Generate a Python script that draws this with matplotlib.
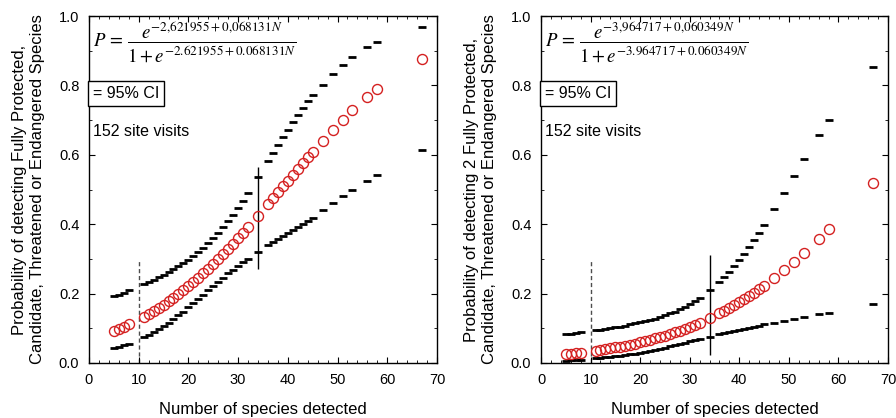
#!/usr/bin/env python3
"""
Logistic detection curves for protected species vs. number of species
detected per site visit (two panels: >=1 and >=2 protected species).
"""

import numpy as np
import matplotlib

matplotlib.use("Agg")
import matplotlib.pyplot as plt
from matplotlib.ticker import MultipleLocator

plt.rcParams["font.family"] = ["Liberation Sans", "DejaVu Sans"]
plt.rcParams["mathtext.fontset"] = "stix"

# species counts observed at the site visits
N_SPECIES = [5, 6, 7, 8, 11, 12, 13, 14, 15, 16, 17, 18, 19, 20, 21, 22, 23,
             24, 25, 26, 27, 28, 29, 30, 31, 32, 34, 36, 37, 38, 39, 40, 41,
             42, 43, 44, 45, 47, 49, 51, 53, 56, 58, 67]

# panel 1: P(detect >=1 protected species)
P1_FIT = [0.093, 0.099, 0.105, 0.111, 0.133, 0.141, 0.150, 0.159, 0.168,
          0.178, 0.188, 0.199, 0.210, 0.221, 0.233, 0.245, 0.258, 0.272,
          0.285, 0.299, 0.314, 0.329, 0.344, 0.359, 0.375, 0.391, 0.424,
          0.458, 0.475, 0.492, 0.509, 0.526, 0.543, 0.560, 0.576, 0.593,
          0.609, 0.641, 0.672, 0.701, 0.729, 0.767, 0.791, 0.875]
P1_UPPER = [0.192, 0.197, 0.203, 0.209, 0.227, 0.234, 0.240, 0.247, 0.255,
            0.263, 0.271, 0.279, 0.288, 0.298, 0.308, 0.319, 0.331, 0.345,
            0.359, 0.374, 0.391, 0.408, 0.427, 0.447, 0.468, 0.490, 0.535,
            0.582, 0.605, 0.628, 0.650, 0.673, 0.694, 0.715, 0.735, 0.754,
            0.772, 0.801, 0.832, 0.858, 0.881, 0.910, 0.925, 0.969]
P1_LOWER = [0.042, 0.046, 0.051, 0.056, 0.075, 0.082, 0.089, 0.098, 0.107,
            0.116, 0.126, 0.137, 0.148, 0.160, 0.172, 0.184, 0.197, 0.209,
            0.222, 0.234, 0.246, 0.258, 0.269, 0.280, 0.291, 0.301, 0.320,
            0.339, 0.348, 0.357, 0.366, 0.375, 0.383, 0.392, 0.401, 0.409,
            0.418, 0.440, 0.460, 0.480, 0.498, 0.526, 0.543, 0.615]

# panel 2: P(detect >=2 protected species)
P2_FIT = [0.025, 0.027, 0.028, 0.030, 0.036, 0.038, 0.040, 0.042, 0.045,
          0.047, 0.050, 0.053, 0.056, 0.060, 0.063, 0.067, 0.071, 0.075,
          0.079, 0.084, 0.088, 0.093, 0.098, 0.104, 0.110, 0.116, 0.129,
          0.143, 0.150, 0.158, 0.166, 0.175, 0.184, 0.193, 0.203, 0.213,
          0.223, 0.245, 0.267, 0.292, 0.317, 0.358, 0.386, 0.520]
P2_UPPER = [0.083, 0.085, 0.086, 0.088, 0.094, 0.096, 0.098, 0.100, 0.103,
            0.105, 0.108, 0.111, 0.114, 0.117, 0.120, 0.124, 0.128, 0.133,
            0.137, 0.143, 0.148, 0.155, 0.162, 0.169, 0.178, 0.187, 0.209,
            0.234, 0.248, 0.263, 0.280, 0.297, 0.315, 0.335, 0.355, 0.376,
            0.398, 0.443, 0.491, 0.539, 0.587, 0.656, 0.700, 0.852]
P2_LOWER = [0.007, 0.008, 0.009, 0.010, 0.013, 0.014, 0.016, 0.017, 0.019,
            0.021, 0.023, 0.025, 0.027, 0.030, 0.032, 0.035, 0.038, 0.041,
            0.044, 0.048, 0.051, 0.055, 0.058, 0.062, 0.066, 0.069, 0.076,
            0.083, 0.087, 0.090, 0.093, 0.096, 0.099, 0.102, 0.105, 0.108,
            0.111, 0.116, 0.122, 0.127, 0.132, 0.140, 0.145, 0.169]

# reference lines: dashed at N=10, solid marker line at the mean N=34
DASH_N = 10
DASH_TOP = 0.30
MEAN_N = 34
MEAN_SPAN_1 = (0.27, 0.565)
MEAN_SPAN_2 = (0.023, 0.31)

EQ_1 = (r"$P\,=\,\dfrac{e^{-2{,}621955+0{,}068131N}}"
        r"{1+e^{-2.621955+0.068131N}}$")
EQ_2 = (r"$P\,=\,\dfrac{e^{-3{,}964717+0{,}060349N}}"
        r"{1+e^{-3.964717+0.060349N}}$")
YLABEL_1 = ("Probability of detecting Fully Protected,\n"
            "Candidate, Threatened or Endangered Species")
YLABEL_2 = ("Probability of detecting 2 Fully Protected,\n"
            "Candidate, Threatened or Endangered Species")
XLABEL = "Number of species detected"
VISITS = "152 site visits"
CI_LABEL = "= 95% CI"


def draw_panel(ax, fit, upper, lower, mean_span, equation, ylabel):
    ax.vlines(DASH_N, 0, DASH_TOP, colors="0.3", linestyles=(0, (3, 2)),
              linewidth=1.0, zorder=1)
    ax.vlines(MEAN_N, *mean_span, colors="black", linewidth=1.0, zorder=1)
    ax.plot(N_SPECIES, upper, linestyle="", marker="_", markersize=6,
            markeredgewidth=2.0, color="black", zorder=3)
    ax.plot(N_SPECIES, lower, linestyle="", marker="_", markersize=6,
            markeredgewidth=2.0, color="black", zorder=3)
    ax.plot(N_SPECIES, fit, linestyle="", marker="o", markersize=7.2,
            markerfacecolor="none", markeredgecolor="#d42020",
            markeredgewidth=1.0, zorder=4)

    ax.set_xlim(0, 70)
    ax.set_ylim(0, 1.0)
    ax.xaxis.set_major_locator(MultipleLocator(10))
    ax.xaxis.set_minor_locator(MultipleLocator(2))
    ax.yaxis.set_major_locator(MultipleLocator(0.2))
    ax.yaxis.set_minor_locator(MultipleLocator(0.1))
    ax.yaxis.set_major_formatter(plt.FormatStrFormatter("%.1f"))
    ax.tick_params(which="both", direction="in", top=True, right=True,
                   labelsize=10.5, colors="black")
    ax.tick_params(which="major", length=4, width=0.8, pad=7)
    ax.tick_params(which="minor", length=2, width=0.6)
    for sp in ax.spines.values():
        sp.set_linewidth(1.0)

    ax.set_xlabel(XLABEL, fontsize=12, labelpad=11)
    ax.set_ylabel(ylabel, fontsize=12, labelpad=10)

    ax.text(0.012, 0.925, equation, transform=ax.transAxes, fontsize=13.5,
            ha="left", va="center")
    ax.text(0.012, 0.777, CI_LABEL, transform=ax.transAxes, fontsize=11.5,
            ha="left", va="center",
            bbox=dict(boxstyle="square,pad=0.3", facecolor="white",
                      edgecolor="black", linewidth=1.0))
    ax.text(0.012, 0.668, VISITS, transform=ax.transAxes, fontsize=11.5,
            ha="left", va="center")


def main():
    fig = plt.figure(figsize=(8.96, 4.18), dpi=100)
    ax1 = fig.add_axes([0.0993, 0.1316, 0.3884, 0.830])
    ax2 = fig.add_axes([0.6038, 0.1316, 0.3873, 0.830])
    draw_panel(ax1, P1_FIT, P1_UPPER, P1_LOWER, MEAN_SPAN_1, EQ_1, YLABEL_1)
    draw_panel(ax2, P2_FIT, P2_UPPER, P2_LOWER, MEAN_SPAN_2, EQ_2, YLABEL_2)
    fig.savefig("out.png", dpi=100)
    plt.close(fig)


if __name__ == "__main__":
    main()
